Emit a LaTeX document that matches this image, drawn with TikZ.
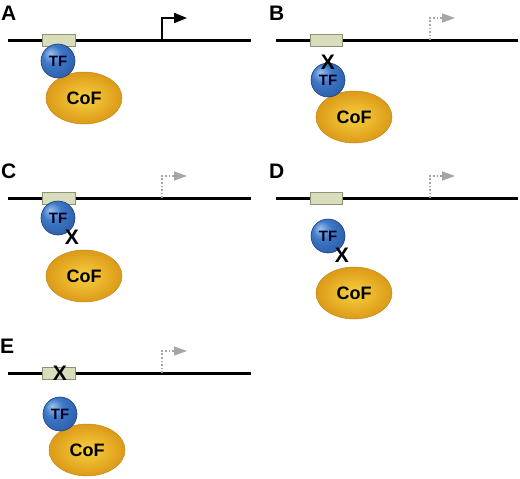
\documentclass[tikz,border=0pt]{standalone}
\usepackage{fontspec}
\setmainfont{Liberation Sans}
\usetikzlibrary{arrows.meta,shapes.geometric}

\definecolor{sitefill}{HTML}{D9DDBC}
\definecolor{sitedraw}{HTML}{8E9274}
\definecolor{tflight}{HTML}{9CC0EC}
\definecolor{tfblue}{HTML}{3E78C6}
\definecolor{tfmid}{HTML}{2A5AA6}
\definecolor{tfdark}{HTML}{1D3F80}
\definecolor{cofgold}{HTML}{DC9A18}
\definecolor{coflight}{HTML}{F8D040}
\definecolor{cofdark}{HTML}{C08A18}

\pgfdeclareradialshading{tfball}{\pgfpoint{-12bp}{12bp}}{%
  color(0bp)=(tflight); color(14bp)=(tfblue); color(34bp)=(tfmid);
  color(50bp)=(tfdark)}

\tikzset{
  dna/.style={line width=3pt},
  site/.style={fill=sitefill,draw=sitedraw,line width=0.8pt},
  active/.style={line width=2pt,-{Triangle[length=13pt,width=10pt]}},
  silent/.style={line width=1.6pt,gray!70,dotted,-{Triangle[length=13pt,width=9pt]}},
  tf/.style={circle,minimum size=34pt,inner sep=0pt,shading=tfball,
    draw=tfdark,line width=0.6pt,text=black!85!blue,
    font=\bfseries\fontsize{15}{15}\selectfont},
  cof/.style={ellipse,minimum width=76pt,minimum height=52pt,inner sep=0pt,
    inner color=coflight,outer color=cofgold,draw=cofdark,line width=0.5pt,
    font=\bfseries\fontsize{18}{18}\selectfont},
  block/.style={font=\bfseries\fontsize{21}{21}\selectfont,inner sep=0pt},
  panel/.style={font=\bfseries\fontsize{21}{21}\selectfont,inner sep=0pt,anchor=west}
}

\begin{document}
\begin{tikzpicture}[x=1pt,y=-1pt]
  \useasboundingbox (0,0) rectangle (520,479);

  % A : TF lie le site, CoF recrute, promoteur actif
  \begin{scope}
    \node[panel] (labA) at (1,13) {A};
    \draw[dna] (8,40) -- (251,40);
    \draw[site] (42,34) rectangle (75,46);
    \draw[active] (162,40) -- (162,18) -- (187,18);
    \node[cof] (cofA) at (84,98) {CoF};
    \node[tf] (tfA) at (58,61) {TF};
  \end{scope}

  % B : TF ne lie plus l'ADN
  \begin{scope}[shift={(268,0)}]
    \node[panel] (labB) at (1,13) {B};
    \draw[dna] (8,40) -- (250,40);
    \draw[site] (42,34) rectangle (74,46);
    \draw[silent] (162,40) -- (162,18) -- (187,18);
    \node[cof] (cofB) at (86,117) {CoF};
    \node[tf] (tfB) at (60,80) {TF};
    \node[block] (xB) at (60,62) {X};
  \end{scope}

  % C : TF lie, mais ne recrute plus CoF
  \begin{scope}[shift={(0,158)}]
    \node[panel] (labC) at (1,13) {C};
    \draw[dna] (8,40) -- (251,40);
    \draw[site] (42,34) rectangle (75,46);
    \draw[silent] (162,40) -- (162,18) -- (187,18);
    \node[cof] (cofC) at (84,118) {CoF};
    \node[tf] (tfC) at (58,60) {TF};
    \node[block] (xC) at (72,79) {X};
  \end{scope}

  % D : ni liaison ni recrutement
  \begin{scope}[shift={(268,158)}]
    \node[panel] (labD) at (1,13) {D};
    \draw[dna] (8,40) -- (250,40);
    \draw[site] (42,34) rectangle (74,46);
    \draw[silent] (162,40) -- (162,18) -- (187,18);
    \node[cof] (cofD) at (86,135) {CoF};
    \node[tf] (tfD) at (60,78) {TF};
    \node[block] (xD) at (74,97) {X};
  \end{scope}

  % E : site de liaison mute
  \begin{scope}[shift={(0,333)}]
    \node[panel] (labE) at (0,13) {E};
    \draw[dna] (8,40) -- (251,40);
    \draw[site] (42,34) rectangle (75,46);
    \node[block] (xE) at (60,40) {X};
    \draw[silent] (162,40) -- (162,18) -- (187,18);
    \node[cof] (cofE) at (87,117) {CoF};
    \node[tf] (tfE) at (60,81) {TF};
  \end{scope}
\end{tikzpicture}
\end{document}
